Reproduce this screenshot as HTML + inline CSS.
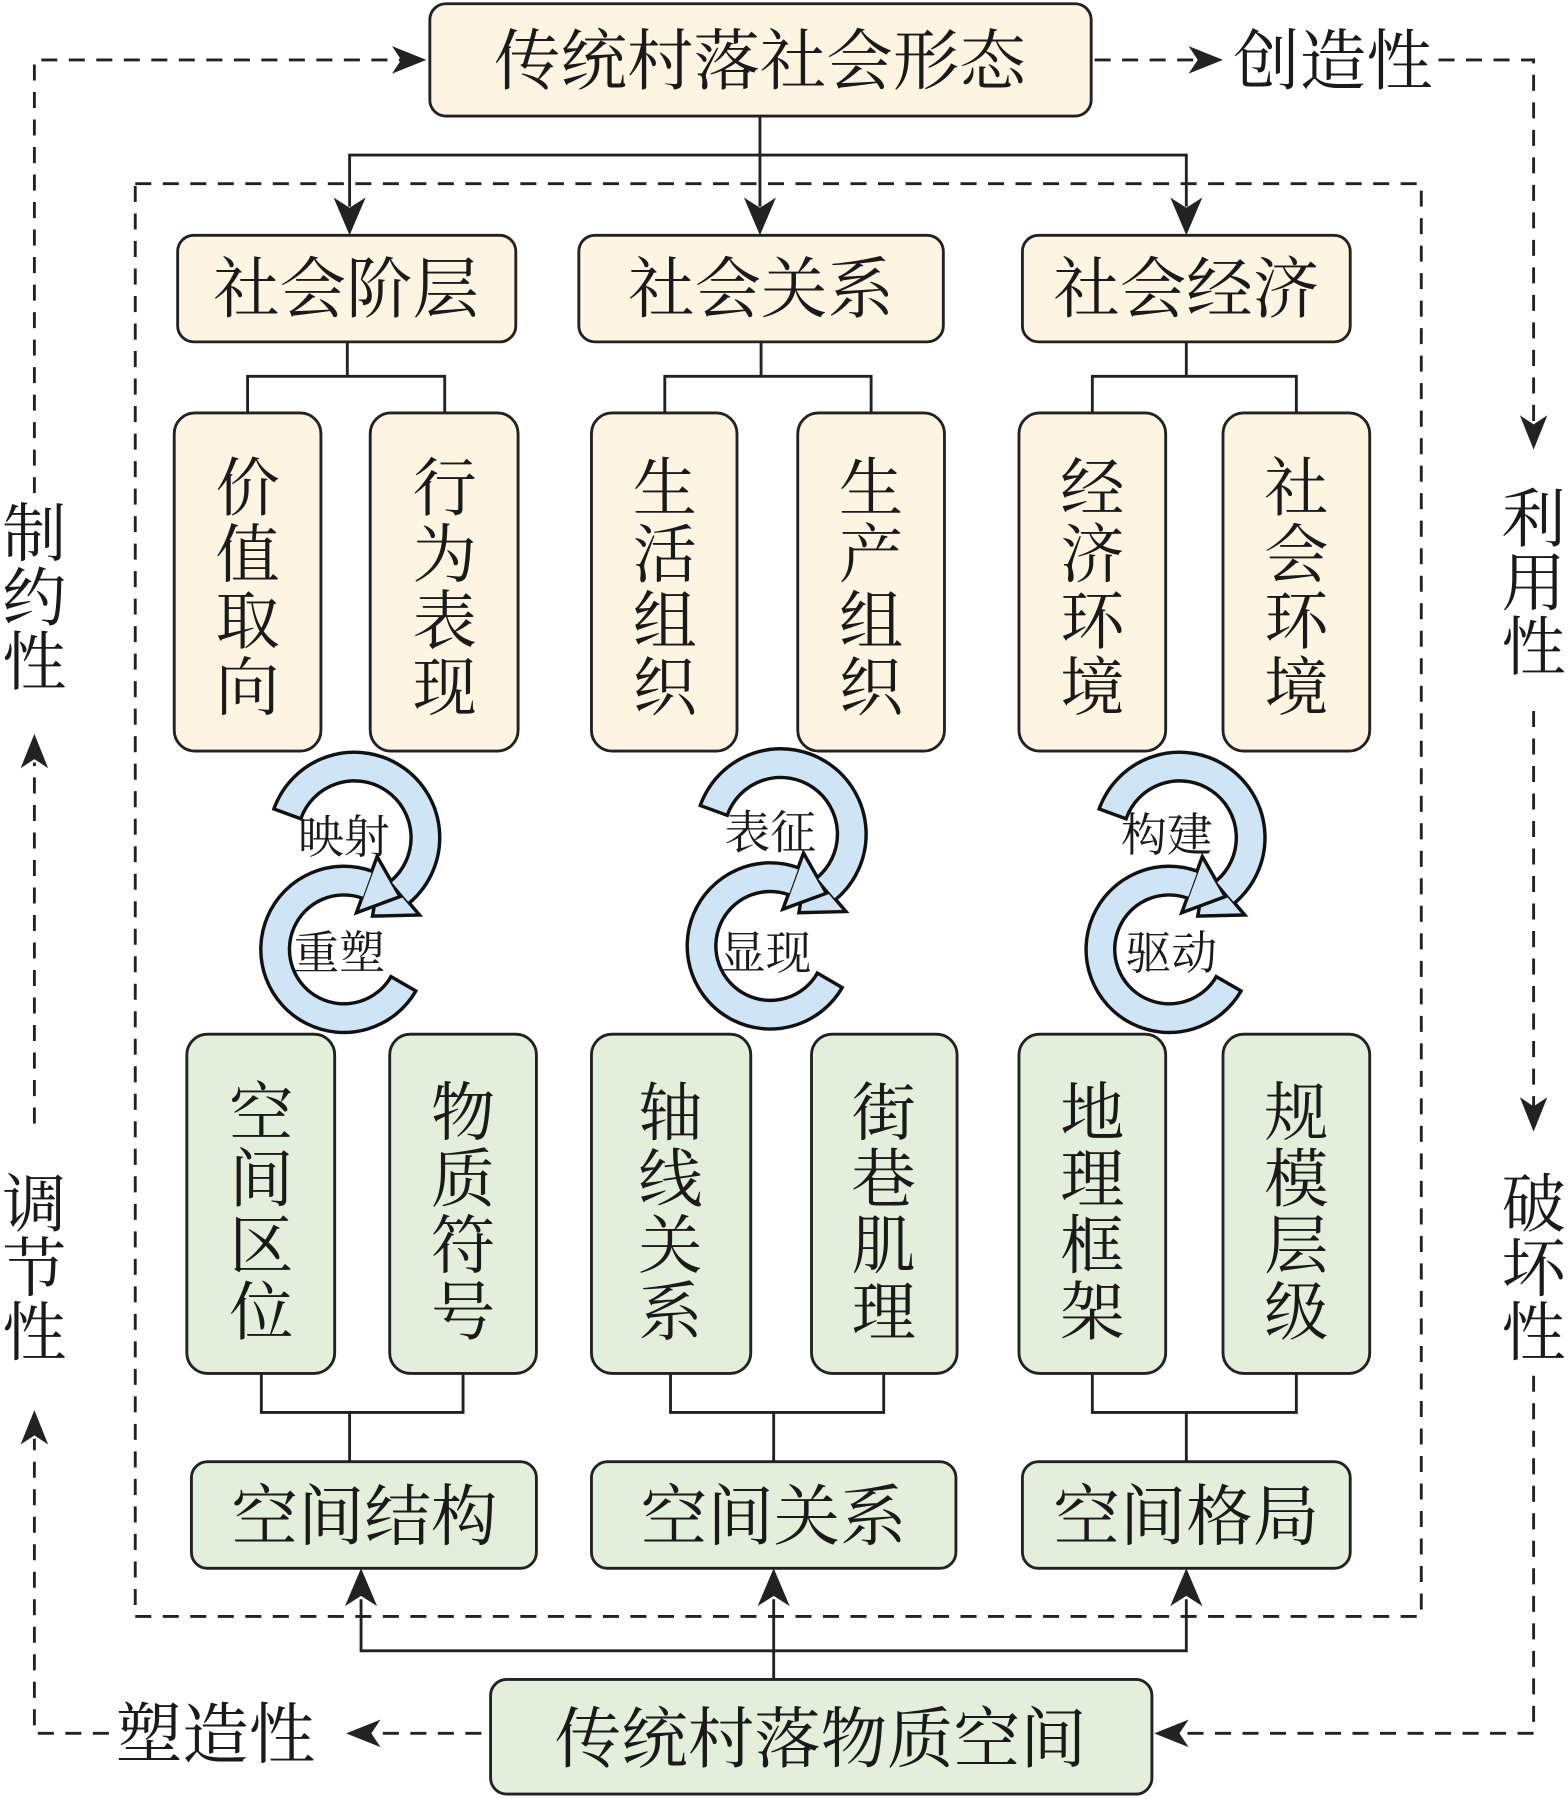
<!DOCTYPE html>
<html><head><meta charset="utf-8"><style>
html,body{margin:0;padding:0;background:#fff}
svg{display:block}
text{font-family:"Liberation Serif","Noto Serif CJK SC",serif;fill:#1a1a1a}
</style></head><body>
<svg width="1568" height="1799" viewBox="0 0 1368 1569" xmlns="http://www.w3.org/2000/svg">
<g stroke="#222" stroke-width="2.5" fill="none">
<path d="M30,430 V52 H350" stroke-dasharray="14,10"/>
<path d="M955,52 H1045" stroke-dasharray="14,10"/>
<path d="M1255,52 H1338 V370" stroke-dasharray="14,10"/>
<path d="M1338,620 V965" stroke-dasharray="14,10"/>
<path d="M1338,1200 V1512 H1030" stroke-dasharray="14,10"/>
<path d="M420,1512 H325" stroke-dasharray="14,10"/>
<path d="M95,1512 H30 V1255" stroke-dasharray="14,10"/>
<path d="M30,980 V665" stroke-dasharray="14,10"/>
<rect x="118" y="160" width="1122" height="1250" stroke-dasharray="14,10"/>
<path d="M663,101 V135 M305,180 V135 H1035 V180 M663,135 V180"/>
<path d="M303,298 V328 M216,360 V328 H388 V360 M664,298 V328 M580,360 V328 H760 V360 M1035,298 V328 M953,360 V328 H1131 V360"/>
<path d="M228,1198 V1232 H404 V1198 M305,1232 V1275 M585,1198 V1232 H771 V1198 M675,1232 V1275 M953,1198 V1232 H1131 V1198 M1035,1232 V1275"/>
<path d="M675,1465 V1440 M315,1395 V1440 H1035 V1395 M675,1440 V1395"/>
</g>
<g fill="#222">
<polygon points="372,52 342,40 350,52 342,64"/>
<polygon points="1067,52 1037,40 1045,52 1037,64"/>
<polygon points="1338,392 1326,362 1338,370 1350,362"/>
<polygon points="1338,987 1326,957 1338,965 1350,957"/>
<polygon points="1007,1512 1037,1500 1029,1512 1037,1524"/>
<polygon points="302,1512 332,1500 324,1512 332,1524"/>
<polygon points="30,1230 18,1260 30,1252 42,1260"/>
<polygon points="30,640 18,670 30,662 42,670"/>
<polygon points="305,205 291,172 305,181 319,172"/>
<polygon points="663,205 649,172 663,181 677,172"/>
<polygon points="1035,205 1021,172 1035,181 1049,172"/>
<polygon points="315,1368 301,1401 315,1392 329,1401"/>
<polygon points="675,1368 661,1401 675,1392 689,1401"/>
<polygon points="1035,1368 1021,1401 1035,1392 1049,1401"/>
</g>
<g stroke="#222" stroke-width="2.5">
<rect x="375" y="3" width="577" height="98" rx="14" fill="#fdf5e1"/>
<rect x="155" y="205" width="295" height="93" rx="14" fill="#fdf5e1"/>
<rect x="505" y="205" width="318" height="93" rx="14" fill="#fdf5e1"/>
<rect x="892" y="205" width="286" height="93" rx="14" fill="#fdf5e1"/>
<rect x="152" y="360" width="128" height="295" rx="18" fill="#fdf5e1"/>
<rect x="323" y="360" width="129" height="295" rx="18" fill="#fdf5e1"/>
<rect x="516" y="360" width="127" height="295" rx="18" fill="#fdf5e1"/>
<rect x="696" y="360" width="128" height="295" rx="18" fill="#fdf5e1"/>
<rect x="889" y="360" width="128" height="295" rx="18" fill="#fdf5e1"/>
<rect x="1067" y="360" width="128" height="295" rx="18" fill="#fdf5e1"/>
<rect x="163" y="902" width="129" height="296" rx="18" fill="#e3eedb"/>
<rect x="340" y="902" width="128" height="296" rx="18" fill="#e3eedb"/>
<rect x="516" y="902" width="139" height="296" rx="18" fill="#e3eedb"/>
<rect x="708" y="902" width="127" height="296" rx="18" fill="#e3eedb"/>
<rect x="889" y="902" width="128" height="296" rx="18" fill="#e3eedb"/>
<rect x="1067" y="902" width="128" height="296" rx="18" fill="#e3eedb"/>
<rect x="167" y="1275" width="301" height="93" rx="14" fill="#e3eedb"/>
<rect x="516" y="1275" width="318" height="93" rx="14" fill="#e3eedb"/>
<rect x="892" y="1275" width="286" height="93" rx="14" fill="#e3eedb"/>
<rect x="428" y="1465" width="577" height="100" rx="14" fill="#e3eedb"/>
</g>
<g id="cyc">
<path d="M250.7,709.8 A62,62 0 1 1 349,778" fill="none" stroke="#111" stroke-width="28"/>
<path d="M352,858 A60,60 0 1 1 320.5,771.6" fill="none" stroke="#111" stroke-width="28"/>
<polygon points="366,798 332,758 325,799" fill="#cfe4f5" stroke="#111" stroke-width="3" stroke-linejoin="miter"/>
<polygon points="329,747 311,796 349,782" fill="#cfe4f5" stroke="#111" stroke-width="3"/>
<path d="M250.7,709.8 A62,62 0 1 1 349,778" fill="none" stroke="#cfe4f5" stroke-width="22"/>
<path d="M352,858 A60,60 0 1 1 320.5,771.6" fill="none" stroke="#cfe4f5" stroke-width="22"/>
<path d="M263.9,714.6 L237.6,705 M339.8,851 L364,865" stroke="#111" stroke-width="3"/>
</g>
<use href="#cyc" x="372" y="-3"/>
<use href="#cyc" x="720" y="0"/>
<g font-size="40" text-anchor="middle">
<text x="300" y="744">映射</text><text x="296" y="845">重塑</text>
<text x="672" y="740">表征</text><text x="668" y="845">显现</text>
<text x="1018" y="742">构建</text><text x="1022" y="845">驱动</text>
</g>
<g font-size="58" text-anchor="middle">
<text x="663" y="73">传统村落社会形态</text>
<text x="716" y="1537">传统村落物质空间</text>
<text x="1163" y="73">创造性</text>
<text x="188" y="1533">塑造性</text>
<text x="302" y="272">社会阶层</text>
<text x="664" y="272">社会关系</text>
<text x="1035" y="272">社会经济</text>
<text x="318" y="1343">空间结构</text>
<text x="675" y="1343">空间关系</text>
<text x="1035" y="1343">空间格局</text>
</g>
<g font-size="56" text-anchor="middle">
<text x="216" y="445">价</text><text x="216" y="503">值</text><text x="216" y="561">取</text><text x="216" y="619">向</text>
<text x="388" y="445">行</text><text x="388" y="503">为</text><text x="388" y="561">表</text><text x="388" y="619">现</text>
<text x="580" y="445">生</text><text x="580" y="503">活</text><text x="580" y="561">组</text><text x="580" y="619">织</text>
<text x="760" y="445">生</text><text x="760" y="503">产</text><text x="760" y="561">组</text><text x="760" y="619">织</text>
<text x="953" y="445">经</text><text x="953" y="503">济</text><text x="953" y="561">环</text><text x="953" y="619">境</text>
<text x="1131" y="445">社</text><text x="1131" y="503">会</text><text x="1131" y="561">环</text><text x="1131" y="619">境</text>
<text x="228" y="990">空</text><text x="228" y="1048">间</text><text x="228" y="1106">区</text><text x="228" y="1164">位</text>
<text x="404" y="990">物</text><text x="404" y="1048">质</text><text x="404" y="1106">符</text><text x="404" y="1164">号</text>
<text x="585" y="990">轴</text><text x="585" y="1048">线</text><text x="585" y="1106">关</text><text x="585" y="1164">系</text>
<text x="771" y="990">街</text><text x="771" y="1048">巷</text><text x="771" y="1106">肌</text><text x="771" y="1164">理</text>
<text x="953" y="990">地</text><text x="953" y="1048">理</text><text x="953" y="1106">框</text><text x="953" y="1164">架</text>
<text x="1131" y="990">规</text><text x="1131" y="1048">模</text><text x="1131" y="1106">层</text><text x="1131" y="1164">级</text>
<text x="30" y="485">制</text><text x="30" y="541">约</text><text x="30" y="597">性</text>
<text x="30" y="1070">调</text><text x="30" y="1126">节</text><text x="30" y="1182">性</text>
<text x="1338" y="472">利</text><text x="1338" y="528">用</text><text x="1338" y="584">性</text>
<text x="1338" y="1070">破</text><text x="1338" y="1126">坏</text><text x="1338" y="1182">性</text>
</g>
</svg>
</body></html>
